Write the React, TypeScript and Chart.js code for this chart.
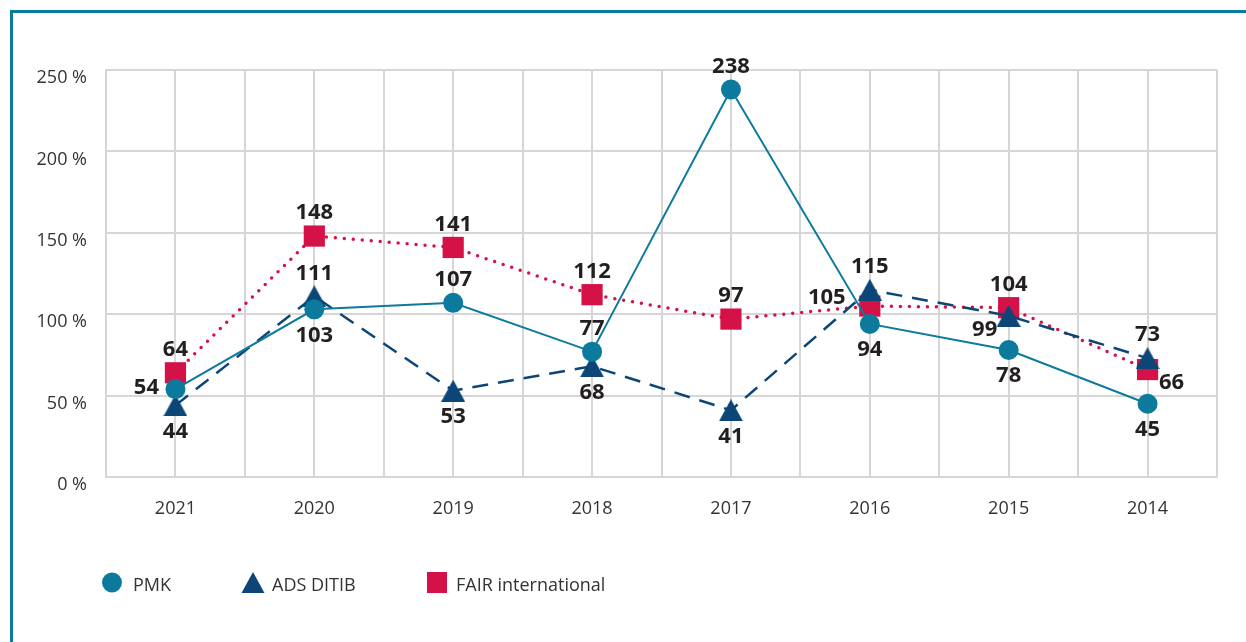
import React, { useEffect, useRef } from 'react';
import { Chart, registerables } from 'chart.js';

Chart.register(...registerables);

const YEARS = ['2021', '2020', '2019', '2018', '2017', '2016', '2015', '2014'];
const PMK = [54, 103, 107, 77, 238, 94, 78, 45];
const ADS = [44, 111, 53, 68, 41, 115, 99, 73];
const FAIR = [64, 148, 141, 112, 97, 105, 104, 66];
const Y_MIN = 0;
const Y_MAX = 250;
const Y_STEP = 50;

// label placement per point
const PMK_POS = ['l', 'b', 'a', 'a', 'a', 'b', 'b', 'b'];
const ADS_POS = ['b', 'a', 'b', 'b', 'b', 'a', 'bl', 'a'];
const FAIR_POS = ['a', 'a', 'a', 'a', 'a', 'l2', 'a', 'r'];

const TEAL = '#0c7a9d';
const NAVY = '#0b4677';
const RED = '#d41248';
const FRAME = '#0b7aa0';
const GRID = '#d6d6d6';
const TEXT = '#333333';
const FONT = '"Open Sans", "Noto Sans", sans-serif';

const OFFSETS: Record<string, [number, number]> = {
  a: [0, -23],
  b: [0, 26],
  l: [-29, -1],
  bl: [-24, 14],
  l2: [-43, -8],
  r: [24, 13],
};

export default function App() {
  const ref = useRef<HTMLCanvasElement>(null);

  useEffect(() => {
    const tri = document.createElement('canvas');
    tri.width = 24;
    tri.height = 22;
    const t = tri.getContext('2d')!;
    t.fillStyle = NAVY;
    t.beginPath();
    t.moveTo(12, 0);
    t.lineTo(24, 22);
    t.lineTo(0, 22);
    t.closePath();
    t.fill();

    const positions = [PMK_POS, ADS_POS, FAIR_POS];

    const labelPlugin = {
      id: 'valueLabels',
      afterDatasetsDraw(chart: any) {
        const ctx = chart.ctx;
        ctx.save();
        ctx.font = `bold 22px ${FONT}`;
        ctx.fillStyle = '#231f20';
        ctx.textAlign = 'center';
        ctx.textBaseline = 'middle';
        chart.data.datasets.forEach((ds: any, di: number) => {
          const meta = chart.getDatasetMeta(di);
          meta.data.forEach((el: any, i: number) => {
            const [dx, dy] = OFFSETS[positions[di][i]];
            ctx.fillText(String(ds.data[i].y), el.x + dx, el.y + dy);
          });
        });
        ctx.restore();
      },
    };

    const legendItems = [
      { mx: 112, tx: 133 },
      { mx: 253, tx: 272 },
      { mx: 437, tx: 456 },
    ];

    const legendPlugin = {
      id: 'customLegend',
      afterDraw(chart: any) {
        const ctx = chart.ctx;
        ctx.save();
        const cy = 582.5;
        chart.data.datasets.forEach((ds: any, di: number) => {
          const it = legendItems[di];
          ctx.fillStyle = ds.pointBackgroundColor;
          ctx.beginPath();
          if (di === 0) {
            ctx.arc(it.mx, cy, 10, 0, Math.PI * 2);
            ctx.fill();
          } else if (di === 1) {
            ctx.moveTo(it.mx, cy - 10.5);
            ctx.lineTo(it.mx + 11.5, cy + 10.5);
            ctx.lineTo(it.mx - 11.5, cy + 10.5);
            ctx.closePath();
            ctx.fill();
          } else {
            ctx.fillRect(it.mx - 10, cy - 10.5, 20, 21);
          }
          ctx.fillStyle = TEXT;
          ctx.font = `18px ${FONT}`;
          ctx.textAlign = 'left';
          ctx.textBaseline = 'alphabetic';
          ctx.fillText(ds.label, it.tx, 590.5);
        });
        ctx.restore();
      },
    };

    const toPts = (arr: number[]) => arr.map((v, i) => ({ x: i, y: v }));

    const chart = new Chart(ref.current!, {
      type: 'line',
      data: {
        datasets: [
          {
            label: 'PMK',
            data: toPts(PMK),
            borderColor: TEAL,
            borderWidth: 2,
            pointStyle: 'circle',
            pointRadius: 10,
            pointBackgroundColor: TEAL,
            pointBorderWidth: 0,
            tension: 0,
          },
          {
            label: 'ADS DITIB',
            data: toPts(ADS),
            borderColor: NAVY,
            borderWidth: 2.5,
            borderDash: [16, 10],
            pointStyle: tri,
            pointRadius: 12,
            pointBackgroundColor: NAVY,
            pointBorderWidth: 0,
            tension: 0,
          },
          {
            label: 'FAIR international',
            data: toPts(FAIR),
            borderColor: RED,
            borderWidth: 3.5,
            borderDash: [0, 9],
            borderCapStyle: 'round',
            pointStyle: 'rect',
            pointRadius: 15,
            pointBackgroundColor: RED,
            pointBorderWidth: 0,
            tension: 0,
          },
        ] as any,
      },
      options: {
        responsive: false,
        animation: false,
        events: [],
        layout: { padding: { top: 70, right: 29, left: 0, bottom: 0 } },
        plugins: {
          legend: { display: false },
          tooltip: { enabled: false },
        },
        scales: {
          x: {
            type: 'linear',
            min: -0.5,
            max: YEARS.length - 0.5,
            afterFit(s: any) {
              s.height = 165;
            },
            ticks: {
              stepSize: 0.5,
              autoSkip: false,
              maxRotation: 0,
              padding: 21,
              color: TEXT,
              font: { family: FONT, size: 18 },
              callback: (v: any) => (Number.isInteger(v) ? YEARS[v] : ''),
            },
            grid: { color: GRID, lineWidth: 2, drawTicks: false },
            border: { color: GRID, width: 2 },
          },
          y: {
            min: Y_MIN,
            max: Y_MAX,
            afterFit(s: any) {
              s.width = 106;
            },
            ticks: {
              stepSize: Y_STEP,
              padding: 19,
              labelOffset: 8,
              color: TEXT,
              font: { family: FONT, size: 18 },
              callback: (v: any) => `${v} %`,
            },
            grid: { color: GRID, lineWidth: 2, drawTicks: false },
            border: { color: GRID, width: 2 },
          },
        },
      } as any,
      plugins: [labelPlugin, legendPlugin],
    });

    return () => chart.destroy();
  }, []);

  return (
    <div style={{ position: 'absolute', left: 0, top: 0, width: 1246, height: 642, background: '#ffffff', overflow: 'hidden' }}>
      <div style={{ position: 'absolute', left: 10, top: 10, width: 1236, height: 3, background: FRAME }} />
      <div style={{ position: 'absolute', left: 10, top: 10, width: 3, height: 632, background: FRAME }} />
      <canvas ref={ref} width={1246} height={642} style={{ position: 'absolute', left: 0, top: 0 }} />
    </div>
  );
}
